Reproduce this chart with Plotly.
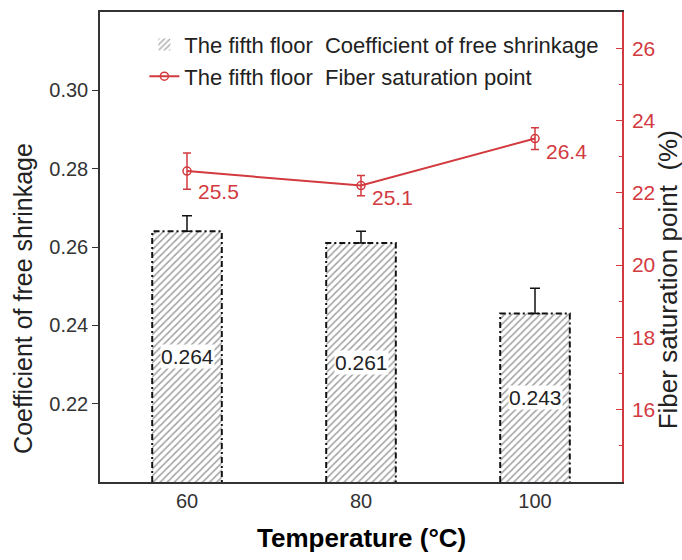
import plotly.graph_objects as go

temps = ["60", "80", "100"]
shrink = [0.264, 0.261, 0.243]
shrink_err = [0.004, 0.003, 0.0065]
fsp = [22.6, 22.2, 23.5]
fsp_err = [0.5, 0.28, 0.3]
fsp_labels = ["25.5", "25.1", "26.4"]
bar_labels = ["0.264", "0.261", "0.243"]

RED = "#d23a3f"
FONT = "Liberation Sans, Arial, sans-serif"
Y1_MIN, Y1_MAX = 0.20, 0.32
Y2_MIN, Y2_MAX = 14, 27
BW = 0.4

xs = list(range(len(temps)))

fig = go.Figure()

fig.add_trace(go.Bar(
    x=xs, y=shrink, width=BW,
    name="The fifth floor\u00a0\u00a0Coefficient of free shrinkage",
    legendgroup="a",
    marker=dict(color="white", line=dict(width=0),
                pattern=dict(shape="/", fgcolor="#444444", bgcolor="white", size=5, solidity=0.3)),
    error_y=dict(type="data", array=shrink_err, arrayminus=[0] * len(shrink), symmetric=False,
                 color="#111111", thickness=1.5, width=5),
    yaxis="y",
))

# dash-dot outline of bars, built from the data
ox, oy = [], []
for i, v in zip(xs, shrink):
    ox += [i - BW / 2, i - BW / 2, i + BW / 2, i + BW / 2, None]
    oy += [Y1_MIN, v, v, Y1_MIN, None]
fig.add_trace(go.Scatter(x=ox, y=oy, mode="lines", showlegend=False, hoverinfo="skip",
                         line=dict(color="#111111", width=2, dash="6px,3px,2px,3px"), yaxis="y"))

fig.add_trace(go.Scatter(
    x=xs, y=fsp, mode="lines+markers",
    name="The fifth floor\u00a0\u00a0Fiber saturation point",
    legendgroup="b",
    line=dict(color=RED, width=2),
    marker=dict(symbol="circle-open", size=8, color=RED, line=dict(width=1.5, color=RED)),
    error_y=dict(type="data", array=fsp_err, color=RED, thickness=1.5, width=4),
    yaxis="y2",
))

annotations = []
for i, v, t in zip(xs, shrink, bar_labels):
    annotations.append(dict(x=i, y=(Y1_MIN + v) / 2, xref="x", yref="y", text=t, showarrow=False,
                            font=dict(family=FONT, size=21, color="#222222"), bgcolor="white",
                            borderpad=0))
for i, v, e, t in zip(xs, fsp, fsp_err, fsp_labels):
    annotations.append(dict(x=i, y=v - e, xref="x", yref="y2", text=t, showarrow=False,
                            xanchor="left", yanchor="middle", xshift=9, yshift=-2,
                            font=dict(family=FONT, size=21, color=RED)))
annotations.append(dict(x=0.5, y=-0.12, xref="paper", yref="paper", text="<b>Temperature (°C)</b>",
                        showarrow=False, xanchor="center", yanchor="middle",
                        font=dict(family=FONT, size=26, color="black")))
annotations.append(dict(x=-0.149, y=0.39, xref="paper", yref="paper", text="Coefficient of free shrinkage",
                        showarrow=False, textangle=-90, xanchor="center", yanchor="middle",
                        font=dict(family=FONT, size=25, color="#222222")))
annotations.append(dict(x=1.087, y=0.43, xref="paper", yref="paper",
                        text="Fiber saturation point\u00a0\u00a0(%)",
                        showarrow=False, textangle=-90, xanchor="center", yanchor="middle",
                        font=dict(family=FONT, size=26, color="#222222")))

fig.update_layout(
    width=682, height=560,
    margin=dict(l=100, r=60, t=10, b=78),
    paper_bgcolor="white", plot_bgcolor="white",
    font=dict(family=FONT, size=20, color="#333333"),
    showlegend=True,
    legend=dict(x=0.085, y=0.975, xanchor="left", yanchor="top", bgcolor="rgba(0,0,0,0)",
                font=dict(family=FONT, size=22, color="#222222"), tracegroupgap=0),
    xaxis=dict(range=[-0.5, 2.5], tickvals=xs, ticktext=temps, showgrid=False, zeroline=False,
               showline=True, linecolor="#333333", linewidth=1.5, mirror=True, ticks="",
               tickfont=dict(size=20, color="#333333")),
    yaxis=dict(range=[Y1_MIN, Y1_MAX], tickvals=[0.22, 0.24, 0.26, 0.28, 0.30],
               ticktext=["0.22", "0.24", "0.26", "0.28", "0.30"], showgrid=False, zeroline=False,
               showline=True, linecolor="#333333", linewidth=1.5, ticks="outside", ticklen=6,
               tickcolor="#333333", tickfont=dict(size=20, color="#333333")),
    yaxis2=dict(range=[Y2_MIN, Y2_MAX], overlaying="y", side="right", tickvals=[16, 18, 20, 22, 24, 26],
                showgrid=False, zeroline=False, showline=True, linecolor=RED, linewidth=1.5,
                ticks="inside", ticklen=6, tickcolor=RED, tickfont=dict(size=21, color=RED),
                ticklabelstandoff=4,
                minor=dict(tickvals=[15, 17, 19, 21, 23, 25], ticks="inside", ticklen=3, tickcolor=RED)),
    annotations=annotations,
)

fig.write_html("out.html")
